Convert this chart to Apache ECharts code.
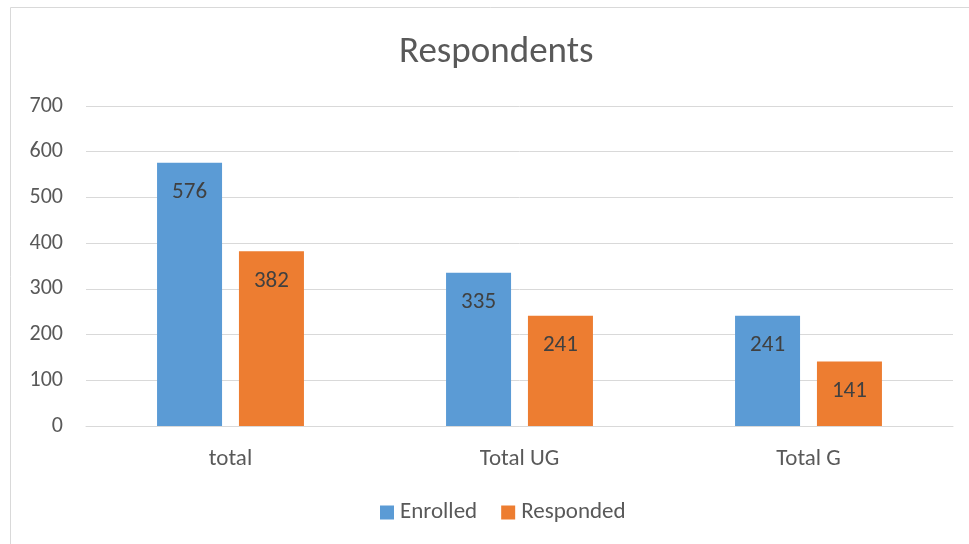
<!DOCTYPE html>
<html><head><meta charset="utf-8">
<script src="https://cdn.jsdelivr.net/npm/echarts@6/dist/echarts.min.js"></script>
<style>html,body{margin:0;padding:0;background:#fff}#c{width:969px;height:544px}</style>
</head><body><div id="c"></div>
<script>
const categories = ['total', 'Total UG', 'Total G'];
const enrolled = [576, 335, 241];
const responded = [382, 241, 141];
const yTicks = {min: 0, max: 700, interval: 100};

const chart = echarts.init(document.getElementById('c'), null, {renderer: 'canvas'});
const font = 'Carlito, Calibri, "Open Sans", "Noto Sans", sans-serif';
const lbl = {show: true, position: 'insideTop', distance: 18, color: '#404040', fontSize: 23, fontFamily: font};
chart.setOption({
  animation: false,
  graphic: [{type: 'rect', shape: {x: 10.5, y: 7.5, width: 1000, height: 600}, style: {fill: 'none', stroke: '#d9d9d9', lineWidth: 1}, silent: true}],
  title: {text: 'Respondents', left: 394, top: 29, textStyle: {color: '#595959', fontSize: 37, fontWeight: 'normal', fontFamily: font}},
  legend: {bottom: 15, left: 375, itemWidth: 14, itemHeight: 14, itemGap: 24, icon: 'rect',
    textStyle: {color: '#595959', fontSize: 23, fontFamily: font, padding: [0, 0, 0, 1]}, data: ['Enrolled', 'Responded']},
  grid: {left: 86, right: 16, top: 106, bottom: 118, containLabel: false},
  xAxis: {type: 'category', data: categories, axisLine: {lineStyle: {color: '#d9d9d9'}}, axisTick: {show: false},
    axisLabel: {color: '#595959', fontSize: 23, fontFamily: font, margin: 22}},
  yAxis: {type: 'value', min: yTicks.min, max: yTicks.max, interval: yTicks.interval,
    axisLine: {show: false}, axisTick: {show: false},
    axisLabel: {color: '#595959', fontSize: 22, fontFamily: font, margin: 23},
    splitLine: {lineStyle: {color: '#d9d9d9', width: 1}}},
  series: [
    {name: 'Enrolled', type: 'bar', data: enrolled, barWidth: 65, barGap: '26%', itemStyle: {color: '#5B9BD5'}, label: lbl},
    {name: 'Responded', type: 'bar', data: responded, barWidth: 65, itemStyle: {color: '#ED7D31'}, label: lbl}
  ]
});
</script></body></html>
